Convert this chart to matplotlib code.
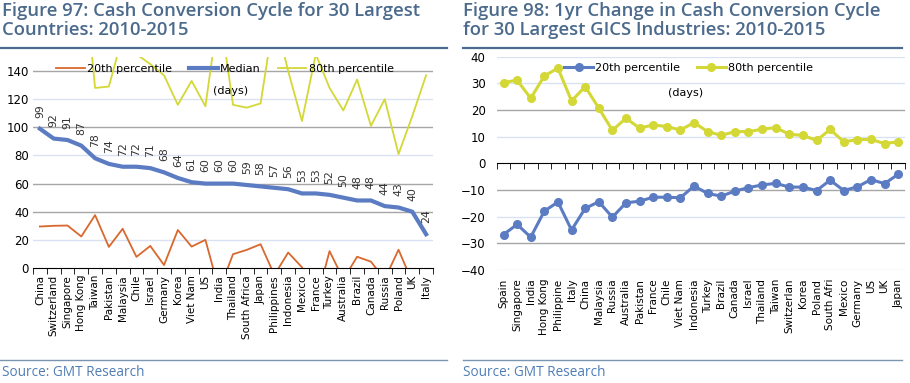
import numpy as np
import matplotlib.pyplot as plt
from matplotlib.lines import Line2D

# ---- Figure 97 data (left) ----
countries = ["China", "Switzerland", "Singapore", "Hong Kong", "Taiwan", "Pakistan",
             "Malaysia", "Chile", "Israel", "Germany", "Korea", "Viet Nam", "US",
             "India", "Thailand", "South Africa", "Japan", "Philippines", "Indonesia",
             "Mexico", "France", "Turkey", "Australia", "Brazil", "Canada", "Russia",
             "Poland", "UK", "Italy"]
median = [99, 92, 91, 87, 78, 74, 72, 72, 71, 68, 64, 61, 60, 60, 60, 59, 58, 57,
          56, 53, 53, 52, 50, 48, 48, 44, 43, 40, 24]
p20_left = [29.5, 30, 30.2, 22.4, 37.6, 15, 27.9, 7.9, 15.7, 2.1, 27, 15.2, 20, -16,
            9.8, 12.9, 16.9, -5, 11, 0.5, -25, 12, -8, 8, 4.5, -8, 13, -10, -15]
p80_left = [190, 185, 200, 230, 128, 129, 165, 152, 145, 137, 116, 133, 115, 185,
            116, 114, 117, 180, 140, 104.5, 152, 128, 112, 134, 101, 120, 81, 108, 137]

# ---- Figure 98 data (right) ----
industries = ["Spain", "Singapore", "India", "Hong Kong", "Philippine", "Italy", "China",
              "Malaysia", "Russia", "Australia", "Pakistan", "France", "Chile", "Viet Nam",
              "Indonesia", "Turkey", "Brazil", "Canada", "Israel", "Thailand", "Taiwan",
              "Switzerlan", "Korea", "Poland", "South Afri", "Mexico", "Germany", "US",
              "UK", "Japan"]
p20_right = [-26.7, -22.9, -27.7, -17.9, -14.5, -25, -16.9, -14.4, -20.2, -14.8, -14.2,
             -12.7, -12.7, -12.9, -8.5, -11.3, -12.3, -10.4, -9.1, -8.1, -7.5, -8.9,
             -8.9, -10.2, -6.3, -10.2, -8.8, -6.1, -7.6, -4.1]
p80_right = [30.3, 31.2, 24.4, 32.8, 35.7, 23.4, 28.8, 20.7, 12.4, 16.9, 13.2, 14.4,
             13.8, 12.5, 15.3, 11.9, 10.5, 11.9, 11.9, 12.8, 13.4, 10.9, 10.5, 8.6,
             12.7, 8.1, 8.9, 9.0, 7.4, 8.1]

title_col = "#4b6a8c"
source_col = "#4f7db5"
grey_grid = "#a6a6a6"
blue_grid = "#d9e2f3"
orange = "#d9682e"
blue = "#5b7cc2"
yellow = "#d3d836"

plt.rcParams['font.family'] = ['DejaVu Sans']

fig = plt.figure(figsize=(9.1, 3.83), dpi=100)

# titles, rules and source lines
fig.text(0.002, 0.995, "Figure 97: Cash Conversion Cycle for 30 Largest\nCountries: 2010-2015",
         family="Open Sans", fontsize=13.3, weight="semibold", color=title_col,
         va="top", ha="left", linespacing=1.1)
fig.text(0.509, 0.995, "Figure 98: 1yr Change in Cash Conversion Cycle\nfor 30 Largest GICS Industries: 2010-2015",
         family="Open Sans", fontsize=13.3, weight="semibold", color=title_col,
         va="top", ha="left", linespacing=1.1)
for x0, x1 in [(0.0, 0.491), (0.509, 0.991)]:
    fig.add_artist(Line2D([x0, x1], [1 - 48 / 383] * 2, color=title_col, lw=1.6))
    fig.add_artist(Line2D([x0, x1], [1 - 360 / 383] * 2, color="#7a95b0", lw=1.0))
fig.text(0.002, 1 - 372 / 383, "Source: GMT Research", family="Open Sans", fontsize=9.8,
         color=source_col, va="center", ha="left")
fig.text(0.509, 1 - 372 / 383, "Source: GMT Research", family="Open Sans", fontsize=9.8,
         color=source_col, va="center", ha="left")

# ---------------- left chart ----------------
ax1 = fig.add_axes([33 / 910, 1 - 268 / 383, 400 / 910, 211 / 383])
x1 = np.arange(len(countries))
for yv, c in zip([20, 40, 60, 80, 100, 120, 140],
                 [blue_grid, grey_grid, grey_grid, blue_grid, grey_grid, blue_grid, grey_grid]):
    ax1.axhline(yv, color=c, lw=1.0, zorder=0)
ax1.plot(x1, p20_left, color=orange, lw=1.3, label="20th percentile")
ax1.plot(x1, median, color=blue, lw=3.0, label="Median")
ax1.plot(x1, p80_left, color=yellow, lw=1.3, label="80th percentile")
for xi, v in zip(x1, median):
    ax1.annotate(str(v), (xi, v), xytext=(0, 8), textcoords="offset points",
                 rotation=90, ha="center", va="bottom", fontsize=7.8, color="#333333")
ax1.set_xlim(-0.5, len(countries) - 0.5)
ax1.set_ylim(0, 150)
ax1.set_yticks(np.arange(0, 141, 20))
ax1.set_xticks(x1, countries, rotation=90, fontsize=7.5)
ax1.set_xticks(np.arange(-0.5, len(countries), 1), minor=True)
ax1.tick_params(axis="x", which="major", length=0, pad=5)
ax1.tick_params(axis="x", which="minor", length=4, direction="out", color="black")
ax1.tick_params(axis="y", length=0, labelsize=8.5, pad=3)
for s in ["top", "right", "left"]:
    ax1.spines[s].set_visible(False)
ax1.spines["bottom"].set_color("black")
ax1.legend(loc="upper center", bbox_to_anchor=(0.48, 1.0), ncol=3, frameon=False,
           fontsize=8, handlelength=2.6, columnspacing=1.5, handletextpad=0.2,
           borderaxespad=0.2)
ax1.text(0.45, 0.84, "(days)", transform=ax1.transAxes, fontsize=8, ha="left", va="center")

# ---------------- right chart ----------------
ax2 = fig.add_axes([496.7 / 910, 1 - 270 / 383, 408.3 / 910, 213.3 / 383])
x2 = np.arange(len(industries))
for yv, c in zip([-40, -30, -20, -10, 10, 20, 30, 40],
                 [blue_grid, grey_grid, blue_grid, grey_grid, blue_grid, grey_grid, blue_grid, blue_grid]):
    ax2.axhline(yv, color=c, lw=1.0, zorder=0)
ax2.plot(x2, p20_right, color=blue, lw=2.2, marker="o", ms=5.5, label="20th percentile")
ax2.plot(x2, p80_right, color=yellow, lw=2.2, marker="o", ms=5.5, label="80th percentile")
ax2.set_xlim(-0.5, len(industries) - 0.5)
ax2.set_ylim(-40, 40)
ax2.set_yticks(np.arange(-40, 41, 10))
ax2.spines["bottom"].set_position(("data", 0))
ax2.set_xticks(x2, industries, rotation=90, fontsize=7.5)
ax2.set_xticks(np.arange(-0.5, len(industries), 1), minor=True)
ax2.tick_params(axis="x", which="major", length=0, pad=83)
ax2.tick_params(axis="x", which="minor", length=4, direction="out", color="black")
ax2.tick_params(axis="y", length=0, labelsize=8.5, pad=8)
for s in ["top", "right", "left"]:
    ax2.spines[s].set_visible(False)
ax2.spines["bottom"].set_color("black")
ax2.legend(loc="upper center", bbox_to_anchor=(0.47, 1.0), ncol=2, frameon=False,
           fontsize=8, handlelength=2.6, columnspacing=1.5, handletextpad=0.2,
           borderaxespad=0.2)
ax2.text(0.42, 0.83, "(days)", transform=ax2.transAxes, fontsize=8, ha="left", va="center")

fig.savefig("out.png", dpi=100)
